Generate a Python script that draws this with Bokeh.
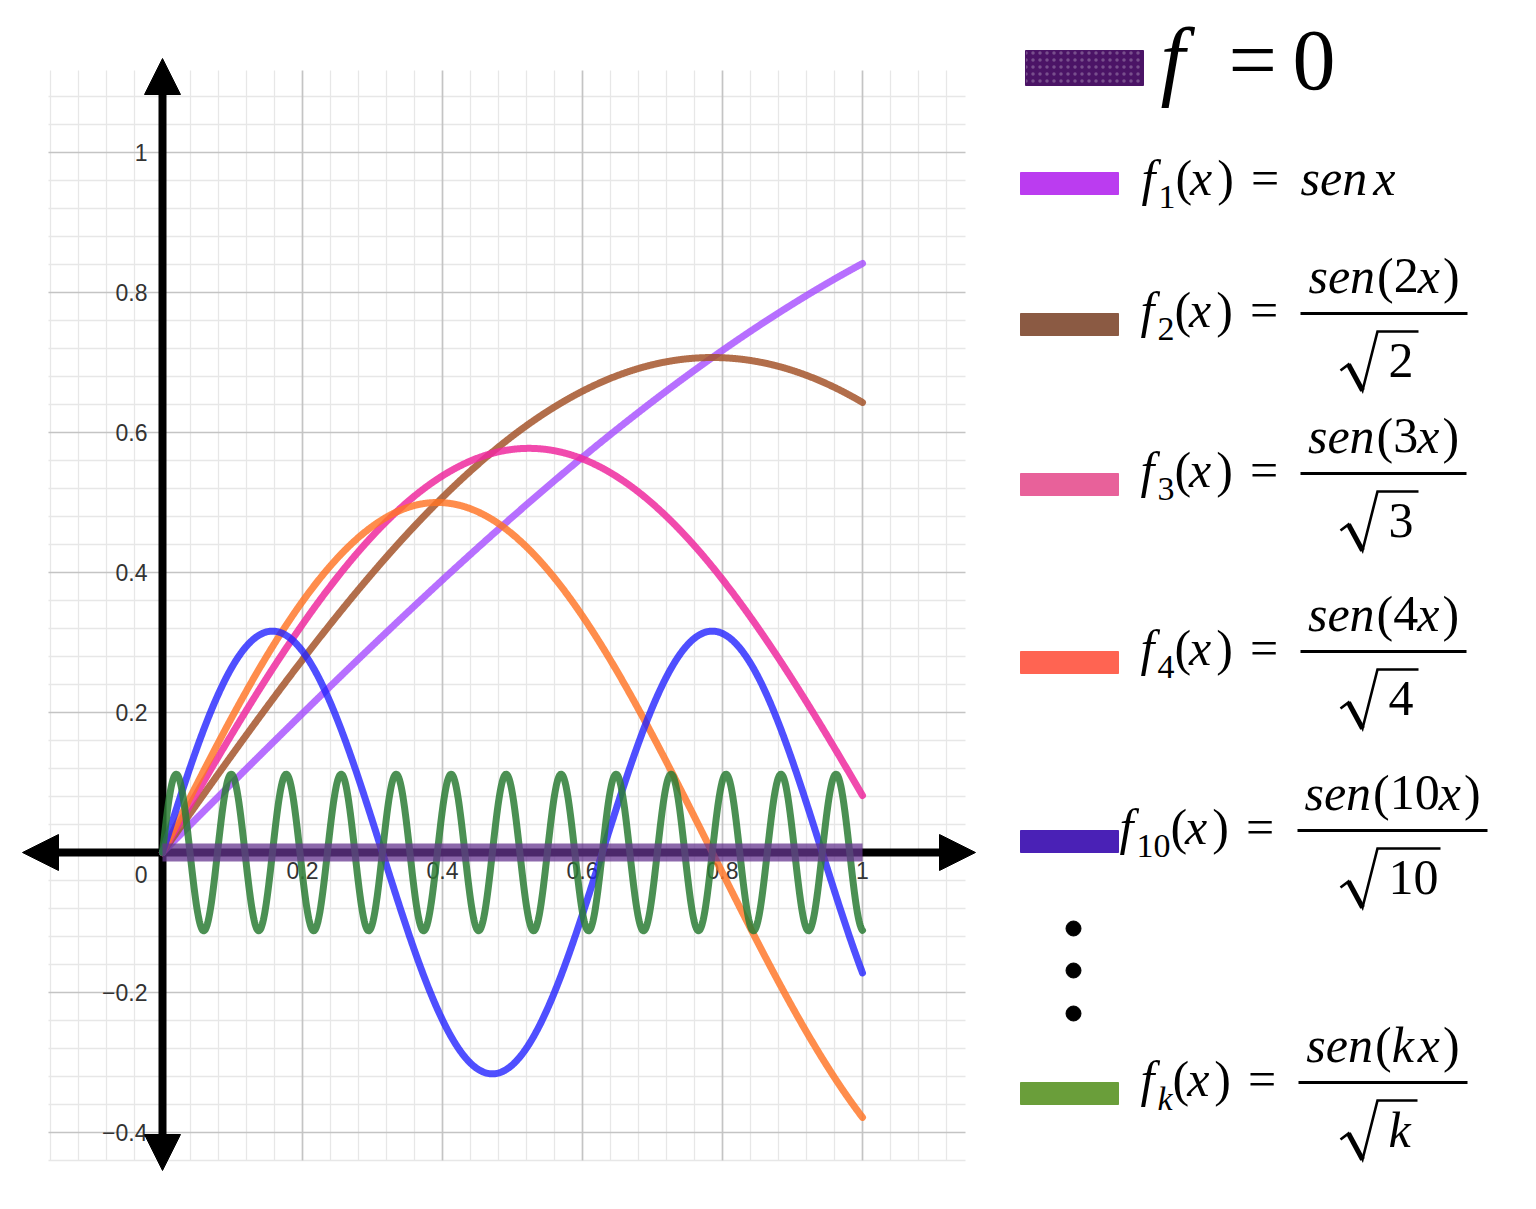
import numpy as np
from bokeh.plotting import figure
from bokeh.models import (Range1d, LinearAxis, FixedTicker, CustomJSTickFormatter,
                          Arrow, NormalHead)
from bokeh.core.properties import value
from bokeh.embed import file_html
from bokeh.resources import INLINE

# ---------------- data ----------------
x_domain = [0.0, 1.0]
k_values = [1, 2, 3, 4, 10, 80]
curve_colors = ["#a74fff", "#a5552c", "#ef2a9f", "#ff7424", "#2323ff", "#2b7d35"]
curve_alpha = [0.82, 0.85, 0.85, 0.82, 0.8, 0.85]
zero_color = "#66358f"
x_ticks = [0.2, 0.4, 0.6, 0.8, 1.0]
y_ticks = [-0.4, -0.2, 0.2, 0.4, 0.6, 0.8, 1.0]
legend_subs = ["1", "2", "3", "4", "10", "k"]
legend_inner = [None, "2", "3", "4", "10", "k"]
legend_swatch_colors = ["#bb3cf0", "#8b5a43", "#e8619a", "#ff6452", "#4a21b6", "#6a9e3a"]
zero_swatch_color = "#4b1466"

SERIF = "'Liberation Serif', 'Times New Roman', 'DejaVu Serif', serif"
SANS = "'Liberation Sans', Arial, sans-serif"

# ---------------- pixel helpers (layout only) ----------------
PX = 700.0
OX, OY = 162.0, 852.0
def X(px): return (px - OX) / PX
def Y(py): return (OY - py) / PX

p = figure(width=1520, height=1193,
           x_range=Range1d(X(0), X(1520)), y_range=Range1d(Y(1193), Y(0)),
           x_axis_type=None, y_axis_type=None, toolbar_location=None,
           output_backend="svg", min_border=0, outline_line_color=None)
p.background_fill_color = "white"
p.border_fill_color = "white"

# ---------------- grid ----------------
gx0, gx1, gy0, gy1 = X(48), X(965), Y(1160), Y(70)
steps = np.round(np.arange(-0.48, 1.2001, 0.04), 2)
def is_major(v): return abs(v / 0.2 - round(v / 0.2)) < 1e-6
vx = [v for v in steps if gx0 - 1e-9 <= v <= gx1]
hy = [v for v in steps if gy0 - 1e-9 <= v <= gy1]
for major, col, w in [(False, "#e7e7e7", 1.3), (True, "#c4c4c4", 1.7)]:
    xs_v = [v for v in vx if is_major(v) == major]
    ys_h = [v for v in hy if is_major(v) == major]
    p.segment(x0=xs_v, y0=[gy0] * len(xs_v), x1=xs_v, y1=[gy1] * len(xs_v),
              line_color=col, line_width=w)
    p.segment(x0=[gx0] * len(ys_h), y0=ys_h, x1=[gx1] * len(ys_h), y1=ys_h,
              line_color=col, line_width=w)

# ---------------- axes (tick labels) ----------------
fmt = CustomJSTickFormatter(code=r"""
const s = Math.abs(tick).toFixed(1).replace(/\.0$/, "");
return (tick < 0 ? "\u2212" : "") + s;
""")
common = dict(fixed_location=0, formatter=fmt, axis_line_color=None,
              major_tick_line_color=None, minor_tick_line_color=None,
              major_tick_out=0, major_tick_in=0,
              major_label_text_font=SANS,
              major_label_text_font_size="23px",
              major_label_text_color="#333333")
xa = LinearAxis(ticker=FixedTicker(ticks=x_ticks), major_label_standoff=9, **common)
ya = LinearAxis(ticker=FixedTicker(ticks=y_ticks), major_label_standoff=15, **common)
p.add_layout(xa, "below")
p.add_layout(ya, "left")
p.text(x=[X(147)], y=[Y(874)], text=["0"], text_align="right", text_baseline="middle",
       text_font=value(SANS), text_font_size="23px", text_color="#333333")

# ---------------- axis arrows ----------------
def head(): return NormalHead(size=36, fill_color="black", line_color="black", line_width=1)
p.add_layout(Arrow(x_start=X(22), y_start=0, x_end=X(975), y_end=0,
                   start=head(), end=head(), line_width=8, line_color="black"))
p.add_layout(Arrow(x_start=0, y_start=Y(1170), x_end=0, y_end=Y(58),
                   start=head(), end=head(), line_width=8, line_color="black"))

# ---------------- curves ----------------
xs = np.linspace(x_domain[0], x_domain[1], 1201)
for k, c, a in zip(k_values, curve_colors, curve_alpha):
    p.line(xs, np.sin(k * xs) / np.sqrt(k), line_color=c, line_alpha=a,
           line_width=7, line_cap="round", line_join="round", level="overlay")
p.line(x_domain, [0, 0], line_color=zero_color, line_alpha=0.75, line_width=18,
       level="overlay")

# ---------------- legend ----------------
W_N = {"(": .333, ")": .333, "=": .564}
W_I = {"s": .389, "e": .444, "n": .5, "x": .444, "f": .278, "k": .444}
def tw(t, it, size):
    return sum((W_I if it else W_N).get(ch, .5) for ch in t) * size

MID = 0.3375  # distance from alphabetic baseline to middle of em box, in em
def put(x, base, t, it=False, size=50):
    p.text(x=[X(x)], y=[Y(base - MID * size)], text=[t], text_font=value(SERIF),
           text_font_style="italic" if it else "normal", text_font_size=f"{size}px",
           text_baseline="middle", text_align="left", text_color="black")
    return x + tw(t, it, size)

def main_line(x_f, base, sub):
    x = put(x_f, base, "f", True)
    x = put(x + 3, base + 14, sub, sub == "k", 34)
    x = put(x, base, "(")
    x = put(x - 2, base, "x", True)
    x = put(x + 5, base, ")")
    x = put(x + 17, base, "=")
    return x

# header  f = 0
p.quad(left=[X(1025)], right=[X(1143)], top=[Y(50)], bottom=[Y(85)],
       fill_color=zero_swatch_color, line_color=zero_swatch_color,
       hatch_pattern=".", hatch_color="white", hatch_alpha=0.25, hatch_scale=7)
put(1160, 89, "f", True, 88)
put(1228, 89, "=", False, 86)
put(1292, 89, "0", False, 86)

swatch_top = [172, 313, 473, 651, 830, 1082]
f_x = [1141, 1140, 1140, 1140, 1119, 1140]
bar_x = [None, (1300, 1467), (1300, 1466), (1300, 1466), (1297, 1487), (1298, 1467)]
rad_end = [None, 1418, 1418, 1418, 1440, 1417]

p.quad(left=[X(1020)] * 6, right=[X(1118)] * 6,
       top=[Y(t) for t in swatch_top], bottom=[Y(t + 22) for t in swatch_top],
       fill_color=legend_swatch_colors, line_color=legend_swatch_colors)

# f1 line
x = main_line(f_x[0], 194, legend_subs[0])
x = put(1300, 194, "sen", True)
put(x + 6, 194, "x", True)

for i in range(1, 6):
    B = swatch_top[i]
    main_line(f_x[i], B + 13, legend_subs[i])
    b0, b1 = bar_x[i]
    p.segment(x0=[X(b0)], y0=[Y(B)], x1=[X(b1)], y1=[Y(B)], line_color="black", line_width=3)
    inner = legend_inner[i]
    inner_it = inner == "k"
    pieces = [("sen", True, 0), ("(", False, 2), (inner, inner_it, 0),
              ("x", True, 4 if inner_it else -1), (")", False, 3)]
    total = sum(tw(t, it, 50) + g for t, it, g in pieces)
    x = (b0 + b1) / 2 - total / 2
    for t, it, g in pieces:
        x = put(x + g, B - 21, t, it)
    # radical
    re = rad_end[i]
    p.line([X(1340), X(1348), X(1362), X(1377), X(re)],
           [Y(B + 57), Y(B + 51), Y(B + 77), Y(B + 18), Y(B + 18)],
           line_color="black", line_width=2.6, line_join="miter")
    p.line([X(1348), X(1362)], [Y(B + 51), Y(B + 77)], line_color="black", line_width=5)
    put(1388, B + 64, inner, inner_it)

# vertical dots
p.scatter(x=[X(1073)] * 3, y=[Y(928), Y(970), Y(1013)], size=15,
          fill_color="black", line_color="black")

open("out.html", "w").write(file_html(p, INLINE))
